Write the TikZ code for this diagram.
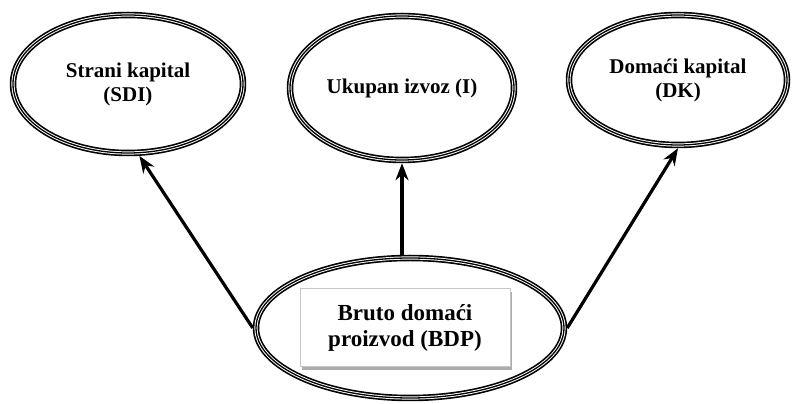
\documentclass[tikz,border=0pt]{standalone}
\usepackage{fontspec}
\setmainfont{Liberation Serif}
\usetikzlibrary{shapes.geometric,positioning,arrows.meta,shadows}

\begin{document}
\begin{tikzpicture}[>={Stealth[length=17pt,width=13pt]},on grid,
  oval/.style={ellipse,draw,line width=6.5pt,inner sep=0pt,align=center,
    font=\bfseries\fontsize{21}{24}\selectfont,
    postaction={draw,white,line width=3.2pt},
    postaction={draw,black,line width=1.3pt}},
  txtbox/.style={rectangle,draw=gray!45,fill=white,line width=1pt,align=center,
    minimum width=210pt,minimum height=78pt,
    drop shadow={shadow xshift=1.5pt,shadow yshift=-3pt,fill=gray!65,opacity=1},
    font=\bfseries\fontsize{23}{26}\selectfont},
  link/.style={->,line width=3.2pt}]

  \useasboundingbox (0,0) rectangle (793pt,404pt);

  \node[oval,minimum width=308pt,minimum height=140pt] (bdp) at (410pt,76pt) {};
  \node[txtbox,xshift=-5pt] (bdptxt) at (bdp.center) {Bruto domaći\\proizvod (BDP)};

  \node[oval,minimum width=230pt,minimum height=138pt] (sdi)
    [above left=244pt and 282pt of bdp] {Strani kapital\\(SDI)};
  \node[oval,minimum width=224pt,minimum height=144pt] (izvoz)
    [above=240pt of bdp,xshift=-8pt] {Ukupan izvoz (I)};
  \node[oval,minimum width=218pt,minimum height=130pt] (dk)
    [above right=248pt and 268pt of bdp] {Domaći kapital\\(DK)};

  \draw[link] (bdp.west) -- (sdi.-81);
  \draw[link] (izvoz.south |- bdp.north) -- (izvoz.south);
  \draw[link] (bdp.east) -- (dk.south);
\end{tikzpicture}
\end{document}
